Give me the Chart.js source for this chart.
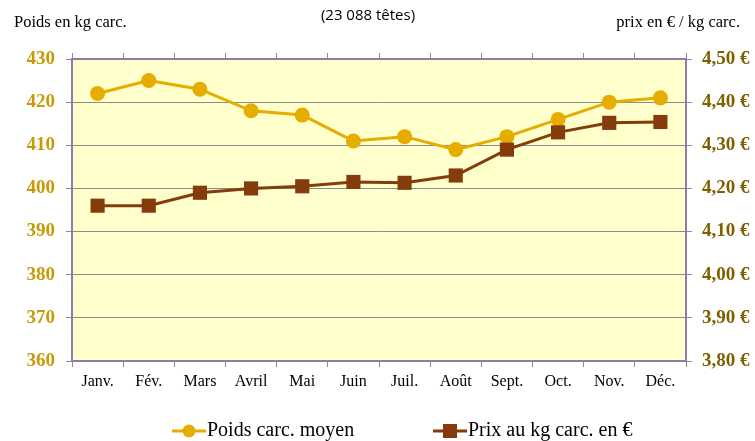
<!DOCTYPE html>
<html>
<head>
<meta charset="utf-8">
<script src="https://cdn.jsdelivr.net/npm/chart.js@4/dist/chart.umd.min.js"></script>
<style>
  html, body { margin: 0; padding: 0; background: #ffffff; }
  #wrap { width: 755px; height: 441px; }
</style>
</head>
<body>
<div id="wrap"><canvas id="poids-chart"></canvas></div>
<script>
// Data
const months = ['Janv.', 'Fév.', 'Mars', 'Avril', 'Mai', 'Juin', 'Juil.', 'Août', 'Sept.', 'Oct.', 'Nov.', 'Déc.'];
const poidsMoyen = [422, 425, 423, 418, 417, 411, 412, 409, 412, 416, 420, 421];
const prixKg = [4.16, 4.16, 4.19, 4.20, 4.205, 4.215, 4.213, 4.23, 4.29, 4.33, 4.352, 4.354];
const poidsTicks = { min: 360, max: 430, step: 10 };
const prixTicks = { min: 3.8, max: 4.5, step: 0.1 };

const GOLD = '#e6ac00';
const BROWN = '#843c0c';
const BORDER = '#8f7aa8';
const GRID = '#8c8c8c';
const SERIF = '"Liberation Serif", "DejaVu Serif", serif';

// Yellow plot background
const plotBackground = {
    id: 'plotBackground',
    beforeDraw(chart) {
        const a = chart.chartArea;
        const ctx = chart.ctx;
        ctx.save();
        ctx.fillStyle = '#ffffcc';
        ctx.fillRect(a.left, a.top, a.right - a.left, a.bottom - a.top);
        ctx.restore();
    }
};

// Axis titles, subtitle and legend with line + marker
const annotations = {
    id: 'annotations',
    afterDraw(chart) {
        const ctx = chart.ctx;
        ctx.save();
        ctx.fillStyle = '#000000';
        ctx.textBaseline = 'middle';

        ctx.font = '16.5px ' + SERIF;
        ctx.textAlign = 'left';
        ctx.fillText('Poids en kg carc.', 14, 23);
        ctx.textAlign = 'right';
        ctx.fillText('prix en € / kg carc.', 740, 23);

        ctx.font = '15px "Open Sans", "Liberation Sans", sans-serif';
        ctx.textAlign = 'center';
        ctx.fillText('(23 088 têtes)', 368, 16);

        // legend
        const ly = 431;
        const items = [
            { x: 172, color: GOLD, style: 'circle', text: 'Poids carc. moyen' },
            { x: 433, color: BROWN, style: 'rect', text: 'Prix au kg carc. en €' }
        ];
        items.forEach(it => {
            ctx.strokeStyle = it.color;
            ctx.lineWidth = 3;
            ctx.beginPath();
            ctx.moveTo(it.x, ly);
            ctx.lineTo(it.x + 34, ly);
            ctx.stroke();
            ctx.fillStyle = it.color;
            if (it.style === 'circle') {
                ctx.beginPath();
                ctx.arc(it.x + 17, ly, 6.5, 0, Math.PI * 2);
                ctx.fill();
            } else {
                ctx.fillRect(it.x + 10, ly - 7, 14, 14);
            }
            ctx.fillStyle = '#000000';
            ctx.font = '20px ' + SERIF;
            ctx.textAlign = 'left';
            ctx.fillText(it.text, it.x + 35, ly);
        });
        ctx.restore();
    }
};

const ctx = document.getElementById('poids-chart').getContext('2d');
const poidsChart = new Chart(ctx, {
    type: 'line',
    data: {
        labels: months,
        datasets: [{
            label: 'Poids carc. moyen',
            data: poidsMoyen,
            yAxisID: 'y',
            borderColor: GOLD,
            backgroundColor: GOLD,
            borderWidth: 3,
            pointStyle: 'circle',
            pointRadius: 7.5,
            pointBorderWidth: 0,
            tension: 0,
            order: 2
        }, {
            label: 'Prix au kg carc. en €',
            data: prixKg,
            yAxisID: 'y1',
            borderColor: BROWN,
            backgroundColor: BROWN,
            borderWidth: 3,
            pointStyle: 'rect',
            pointRadius: 10,
            pointBorderWidth: 0,
            tension: 0,
            order: 1
        }]
    },
    options: {
        responsive: true,
        maintainAspectRatio: false,
        animation: false,
        layout: { padding: 0 },
        plugins: {
            legend: { display: false },
            tooltip: { enabled: false }
        },
        scales: {
            x: {
                position: 'bottom',
                offset: true,
                grid: { drawOnChartArea: false, offset: true, tickLength: 6, color: GRID },
                border: { color: BORDER, width: 2 },
                ticks: { color: '#000000', font: { family: SERIF, size: 16 }, padding: 5, maxRotation: 0 },
                afterFit(scale) { scale.height = 80; }
            },
            x2: {
                type: 'category',
                labels: months,
                position: 'top',
                offset: true,
                grid: { drawOnChartArea: false, offset: true, tickLength: 6, color: GRID },
                border: { color: BORDER, width: 2 },
                ticks: { display: false },
                afterFit(scale) { scale.height = 59; }
            },
            y: {
                position: 'left',
                min: poidsTicks.min,
                max: poidsTicks.max,
                ticks: {
                    stepSize: poidsTicks.step,
                    color: '#c99a06',
                    font: { family: SERIF, size: 19, weight: 'bold' },
                    padding: 11
                },
                grid: { color: GRID, tickLength: 6, lineWidth: 1 },
                border: { color: BORDER, width: 2 },
                afterFit(scale) { scale.width = 72; }
            },
            y1: {
                position: 'right',
                min: prixTicks.min,
                max: prixTicks.max,
                ticks: {
                    stepSize: prixTicks.step,
                    color: '#7f6000',
                    font: { family: SERIF, size: 19, weight: 'bold' },
                    padding: 10,
                    callback: v => v.toFixed(2).replace('.', ',') + ' €'
                },
                grid: { drawOnChartArea: false, color: GRID, tickLength: 6 },
                border: { color: BORDER, width: 2 },
                afterFit(scale) { scale.width = 69; }
            }
        }
    },
    plugins: [plotBackground, annotations]
});
</script>
</body>
</html>
